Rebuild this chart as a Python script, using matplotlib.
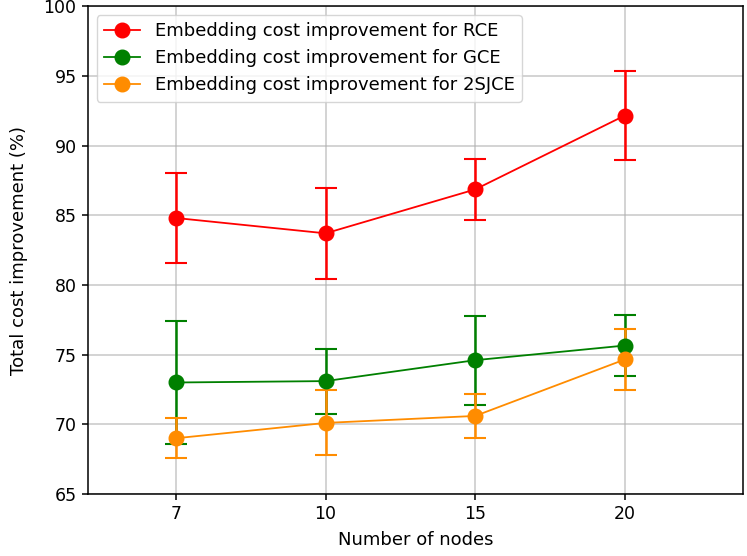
import matplotlib
matplotlib.use('Agg')
import matplotlib.pyplot as plt

nodes = ['7', '10', '15', '20']

rce = [84.8, 83.7, 86.85, 92.15]
rce_err = [3.2, 3.25, 2.17, 3.17]

gce = [73.0, 73.1, 74.6, 75.65]
gce_err = [4.4, 2.33, 3.2, 2.22]

sjce = [69.0, 70.1, 70.6, 74.65]
sjce_err = [1.42, 2.33, 1.6, 2.18]

labels = ['Embedding cost improvement for RCE',
          'Embedding cost improvement for GCE',
          'Embedding cost improvement for 2SJCE']

pos = list(range(len(nodes)))

plt.rcParams['axes.linewidth'] = 1.1
plt.rcParams['xtick.major.width'] = 1.1
plt.rcParams['ytick.major.width'] = 1.1
plt.rcParams['xtick.major.size'] = 4.5
plt.rcParams['ytick.major.size'] = 4.5

fig = plt.figure(figsize=(7.47, 5.56), dpi=100)
ax = fig.add_subplot(111)
fig.subplots_adjust(left=0.1174, right=0.9946, top=0.989, bottom=0.1115)

style = dict(fmt='o-', ms=10.5, lw=1.3, elinewidth=1.8, capsize=8, capthick=1.5)
handles = []
for vals, errs, col in [(rce, rce_err, 'red'), (gce, gce_err, 'green'),
                        (sjce, sjce_err, 'darkorange')]:
    eb = ax.errorbar(pos, vals, yerr=errs, color=col, **style)
    handles.append(eb[0])

ax.set_xticks(pos)
ax.set_xticklabels(nodes)
ax.set_xlim(-0.59, 3.79)
ax.set_ylim(65, 100)
ax.tick_params(labelsize=12.5)
ax.grid(True, color='#b0b0b0', alpha=0.7, lw=1.1)
ax.set_axisbelow(True)
ax.set_xlabel('Number of nodes', fontsize=13, labelpad=6)
ax.set_ylabel('Total cost improvement (%)', fontsize=13, labelpad=11)
ax.legend(handles, labels, loc='upper left', fontsize=13)

fig.savefig('out.png', dpi=100)
